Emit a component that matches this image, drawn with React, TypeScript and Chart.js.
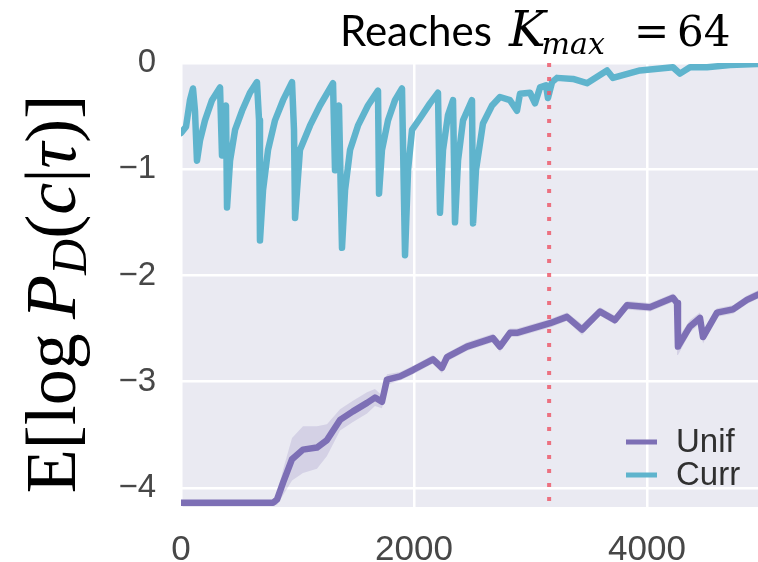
import { useEffect, useRef } from "react";
import { Chart, registerables } from "chart.js";

Chart.register(...registerables);

// ---- data ----
const currSteps = [
  0, 43, 77, 103, 120, 137, 163, 206, 266, 335,
  352, 369, 386, 395, 421, 464, 524, 592, 652, 670,
  678, 704, 747, 807, 876, 953, 970, 979, 996, 1021,
  1107, 1193, 1305, 1322, 1339, 1356, 1382, 1408, 1451, 1519,
  1605, 1691, 1700, 1725, 1777, 1837, 1897, 1923, 1949, 1983,
  2052, 2137, 2206, 2223, 2249, 2292, 2335, 2352, 2378, 2421,
  2498, 2507, 2532, 2592, 2670, 2738, 2824, 2884, 2910, 2996,
  3039, 3082, 3133, 3150, 3185, 3228, 3365, 3485, 3657, 3708,
  3940, 4223, 4283, 4369, 4515, 4713, 4944,
];
const currValues = [
  -0.66, -0.6, -0.35, -0.24, -0.45, -0.92, -0.73, -0.54, -0.35, -0.23,
  -0.87, -0.45, -0.4, -1.36, -0.92, -0.63, -0.45, -0.28, -0.18, -0.54,
  -1.67, -1.2, -0.82, -0.54, -0.35, -0.18, -0.63, -1.46, -1.2, -0.82,
  -0.59, -0.4, -0.19, -1.01, -0.45, -0.4, -1.74, -1.2, -0.82, -0.59,
  -0.4, -0.26, -1.23, -0.82, -0.54, -0.35, -0.24, -1.81, -1.01, -0.63,
  -0.52, -0.38, -0.28, -1.41, -0.82, -0.49, -0.35, -1.5, -0.92, -0.54,
  -0.35, -1.51, -1.01, -0.57, -0.4, -0.32, -0.35, -0.45, -0.29, -0.28,
  -0.38, -0.23, -0.21, -0.33, -0.18, -0.14, -0.15, -0.19, -0.07, -0.14,
  -0.07, -0.04, -0.1, -0.04, -0.04, -0.02, -0.01,
];

const unifSteps = [
  0, 790, 824, 876, 953, 1047, 1167, 1253, 1365, 1476,
  1597, 1665, 1725, 1768, 1880, 1992, 2163, 2240, 2283, 2455,
  2678, 2738, 2824, 2884, 3168, 3313, 3442, 3597, 3725, 3828,
  4026, 4223, 4258, 4266, 4369, 4455, 4481, 4601, 4738, 4858,
  4953,
];
const unifValues = [
  -4.14, -4.14, -4.11, -3.95, -3.73, -3.64, -3.62, -3.55, -3.36, -3.28,
  -3.2, -3.15, -3.19, -2.98, -2.95, -2.89, -2.79, -2.87, -2.77, -2.67,
  -2.59, -2.67, -2.54, -2.54, -2.45, -2.39, -2.51, -2.34, -2.42, -2.28,
  -2.3, -2.21, -2.26, -2.67, -2.48, -2.4, -2.58, -2.35, -2.32, -2.23,
  -2.18,
];
const unifSpread = [
  0.02, 0.02, 0.05, 0.12, 0.2, 0.22, 0.2, 0.15, 0.1, 0.1,
  0.1, 0.08, 0.06, 0.05, 0.04, 0.04, 0.04, 0.05, 0.04, 0.04,
  0.04, 0.05, 0.04, 0.04, 0.04, 0.04, 0.05, 0.04, 0.04, 0.04,
  0.04, 0.04, 0.05, 0.08, 0.06, 0.05, 0.06, 0.04, 0.04, 0.04,
  0.04,
];

const kmaxStep = 3160;
const xTicks = [0, 2000, 4000];
const yTicks = [0, -1, -2, -3, -4];
const xMin = 0;
const xMax = 4953;
const yMin = -4.18;
const yMax = 0;
const legendLabels = ["Unif", "Curr"];

// ---- styles ----
const UNIF_COLOR = "#7d6fb5";
const CURR_COLOR = "#5fb4cd";
const BAND_COLOR = "rgba(125,111,181,0.2)";
const KMAX_COLOR = "rgba(236,92,108,0.85)";
const PANEL_BG = "#eaeaf2";
const TICK_COLOR = "#474747";
const SANS = "'Liberation Sans', Arial, sans-serif";
const SERIF = "'Liberation Serif', 'Times New Roman', serif";
const MATH = "'DejaVu Serif', serif";

type Run = { text: string; font: string; dy?: number };

function drawRuns(ctx: CanvasRenderingContext2D, runs: Run[], x: number, y: number) {
  let cx = x;
  for (const r of runs) {
    ctx.font = r.font;
    ctx.fillText(r.text, cx, y + (r.dy || 0));
    cx += ctx.measureText(r.text).width;
  }
  return cx - x;
}

function runsWidth(ctx: CanvasRenderingContext2D, runs: Run[]) {
  let w = 0;
  for (const r of runs) {
    ctx.font = r.font;
    w += ctx.measureText(r.text).width;
  }
  return w;
}

const decorPlugin = {
  id: "decor",
  beforeDraw(chart: any) {
    const { ctx, chartArea } = chart;
    ctx.save();
    ctx.fillStyle = "#ffffff";
    ctx.fillRect(0, 0, chart.width, chart.height);
    ctx.fillStyle = PANEL_BG;
    ctx.fillRect(chartArea.left, chartArea.top, chartArea.right - chartArea.left, chartArea.bottom - chartArea.top);
    ctx.restore();
  },
  afterDraw(chart: any) {
    const { ctx, chartArea } = chart;
    ctx.save();
    ctx.fillStyle = "#000000";
    ctx.textBaseline = "alphabetic";
    ctx.textAlign = "left";

    // title: "Reaches K_max = 64"
    const base = 46;
    ctx.font = `42px Lato, ${SANS}`;
    ctx.fillText("Reaches", 340, base);
    ctx.font = `italic 49px ${MATH}`;
    ctx.fillText("K", 509, base);
    const kw = ctx.measureText("K").width;
    ctx.font = `italic 30px ${MATH}`;
    ctx.fillText("max", 509 + kw - 4, base + 8);
    ctx.font = `42px ${MATH}`;
    ctx.fillText("=", 634, base);
    ctx.fillText("64", 677, base);

    // y-axis label (rotated)
    const fs = 72;
    const ylab: Run[] = [
      { text: "E[log", font: `${fs}px ${SERIF}` },
      { text: "\u2009", font: `${fs}px ${SERIF}` },
      { text: "P", font: `italic ${fs}px ${SERIF}` },
      { text: "D", font: `italic ${Math.round(fs * 0.7)}px ${SERIF}`, dy: fs * 0.15 },
      { text: "(", font: `${fs}px ${SERIF}` },
      { text: "c", font: `italic ${fs}px ${SERIF}` },
      { text: "|", font: `${fs}px ${SERIF}` },
      { text: "\u03c4", font: `italic ${fs}px ${SERIF}` },
      { text: ")]", font: `${fs}px ${SERIF}` },
    ];
    const yw = runsWidth(ctx, ylab);
    ctx.save();
    ctx.translate(75, 294);
    ctx.rotate(-Math.PI / 2);
    drawRuns(ctx, ylab, -yw / 2, 0);
    ctx.restore();

    // legend
    const colors = [UNIF_COLOR, CURR_COLOR];
    const lx0 = chartArea.right - 132;
    const lx1 = chartArea.right - 101;
    const tx = chartArea.right - 82;
    const rowY = [chartArea.bottom - 65, chartArea.bottom - 32];
    legendLabels.forEach((lab, i) => {
      ctx.strokeStyle = colors[i];
      ctx.lineWidth = 5;
      ctx.lineCap = "butt";
      ctx.beginPath();
      ctx.moveTo(lx0, rowY[i]);
      ctx.lineTo(lx1, rowY[i]);
      ctx.stroke();
      ctx.fillStyle = "#303030";
      ctx.font = `33px ${SANS}`;
      ctx.textBaseline = "middle";
      ctx.fillText(lab, tx, rowY[i] + 1);
    });
    ctx.restore();
  },
};

export default function App() {
  const ref = useRef<HTMLCanvasElement | null>(null);

  useEffect(() => {
    if (!ref.current) return;
    document.body.style.margin = "0";
    const curr = currSteps.map((x, i) => ({ x, y: currValues[i] }));
    const unif = unifSteps.map((x, i) => ({ x, y: unifValues[i] }));
    const unifHi = unifSteps.map((x, i) => ({ x, y: unifValues[i] + unifSpread[i] }));
    const unifLo = unifSteps.map((x, i) => ({ x, y: unifValues[i] - unifSpread[i] }));
    const kmax = [
      { x: kmaxStep, y: yMax },
      { x: kmaxStep, y: yMin },
    ];

    const lineCommon = {
      pointRadius: 0,
      tension: 0,
      borderJoinStyle: "round" as const,
      borderCapStyle: "round" as const,
      fill: false,
    };

    const chart = new Chart(ref.current, {
      type: "line",
      data: {
        datasets: [
          {
            label: "Kmax",
            data: kmax,
            borderColor: KMAX_COLOR,
            borderWidth: 4,
            borderDash: [4, 10],
            pointRadius: 0,
            fill: false,
          },
          { ...lineCommon, label: legendLabels[1], data: curr, borderColor: CURR_COLOR, borderWidth: 6.5 },
          { ...lineCommon, label: legendLabels[0], data: unif, borderColor: UNIF_COLOR, borderWidth: 6.5 },
          {
            label: "unifHi",
            data: unifHi,
            borderWidth: 0,
            pointRadius: 0,
            borderColor: "rgba(0,0,0,0)",
            backgroundColor: BAND_COLOR,
            fill: "+1",
          },
          {
            label: "unifLo",
            data: unifLo,
            borderWidth: 0,
            pointRadius: 0,
            borderColor: "rgba(0,0,0,0)",
            fill: false,
          },
        ],
      },
      options: {
        animation: false,
        responsive: false,
        devicePixelRatio: 1,
        parsing: false as any,
        layout: { padding: { top: 63, left: 0, right: 0, bottom: 0 } },
        plugins: {
          legend: { display: false },
          tooltip: { enabled: false },
          title: { display: false },
        },
        scales: {
          x: {
            type: "linear",
            min: xMin,
            max: xMax,
            afterBuildTicks: (s: any) => {
              s.ticks = xTicks.map((v) => ({ value: v }));
            },
            afterFit: (s: any) => {
              s.height = 55;
            },
            grid: { color: "#ffffff", lineWidth: 2.5, drawTicks: false },
            border: { display: false },
            ticks: {
              font: { family: SANS, size: 35 },
              color: TICK_COLOR,
              padding: 22,
              maxRotation: 0,
              autoSkip: false,
              callback: (v: any) => String(v),
            },
          },
          y: {
            type: "linear",
            min: yMin,
            max: yMax,
            afterBuildTicks: (s: any) => {
              s.ticks = yTicks.map((v) => ({ value: v }));
            },
            afterFit: (s: any) => {
              s.width = 181;
            },
            grid: { color: "#ffffff", lineWidth: 2.5, drawTicks: false },
            border: { display: false },
            ticks: {
              font: { family: SANS, size: 33 },
              color: TICK_COLOR,
              padding: 25,
              autoSkip: false,
              callback: (v: any) => (v < 0 ? "\u2212" + Math.abs(v) : String(v)),
            },
          },
        },
      },
      plugins: [decorPlugin],
    });
    return () => chart.destroy();
  }, []);

  return (
    <div style={{ position: "absolute", left: 0, top: 0, width: 758, height: 562 }}>
      <canvas ref={ref} width={758} height={562} style={{ display: "block" }} />
    </div>
  );
}
